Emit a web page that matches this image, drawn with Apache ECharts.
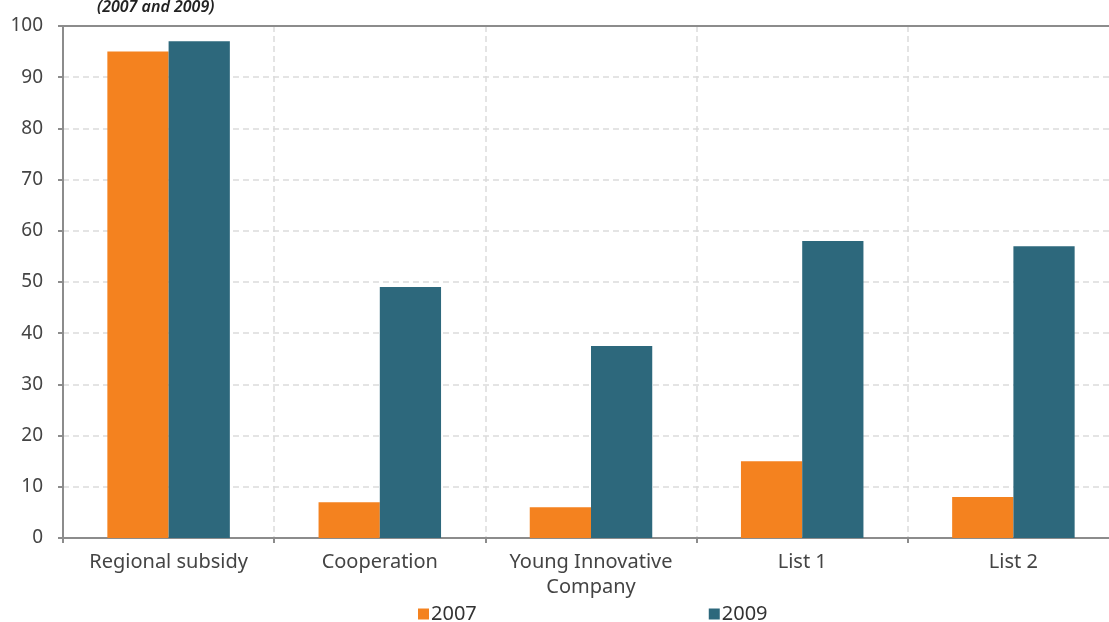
<!DOCTYPE html>
<html>
<head>
<meta charset="utf-8">
<script src="https://cdn.jsdelivr.net/npm/echarts@6/dist/echarts.min.js"></script>
<style>
  html, body { margin: 0; padding: 0; background: #fff; overflow: hidden; }
  /* plot runs past the right edge of the picture, so the div is a bit wider than the window */
  #chart { width: 1119px; height: 622px; }
</style>
</head>
<body>
<div id="chart"></div>
<script>
  // data
  const categories = ['Regional subsidy', 'Cooperation', 'Young Innovative\nCompany', 'List 1', 'List 2'];
  const values2007 = [95, 7, 6, 15, 8];
  const values2009 = [97, 49, 37.5, 58, 57];
  const yTicks = [0, 10, 20, 30, 40, 50, 60, 70, 80, 90, 100];

  const font = '"Noto Sans", "Open Sans", sans-serif';
  const axisGray = '#8c8c8c';

  const myChart = echarts.init(document.getElementById('chart'));

  myChart.setOption({
    color: ['#F4821F', '#2D687C'],
    animation: false,
    textStyle: { fontFamily: font },
    title: {
      text: '(2007 and 2009)',
      left: 92,
      top: -6,
      textStyle: { fontSize: 16, fontStyle: 'italic', fontWeight: 600, color: '#222', fontFamily: font }
    },
    grid: { left: 63, right: 0, top: 26, bottom: 84 },
    legend: {
      left: 413,
      bottom: -7,
      itemWidth: 11,
      itemHeight: 11,
      itemGap: 232,
      icon: 'rect',
      textStyle: { fontSize: 20, color: '#333', padding: [0, 0, 0, -3] },
      data: ['2007', '2009']
    },
    xAxis: [
      {
        type: 'category',
        data: categories,
        axisLine: { lineStyle: { color: axisGray, width: 2 } },
        axisTick: { show: true, length: 5, lineStyle: { color: axisGray, width: 2 } },
        axisLabel: { fontSize: 20, color: '#444', margin: 12, lineHeight: 25, interval: 0 },
        splitLine: { show: true, lineStyle: { color: '#dcdcdc', type: [6, 4], width: 1.5 } }
      },
      {
        type: 'category',
        position: 'top',
        data: categories,
        axisLine: { show: true, lineStyle: { color: axisGray, width: 2 } },
        axisTick: { show: false },
        axisLabel: { show: false }
      }
    ],
    yAxis: {
      type: 'value',
      min: yTicks[0],
      max: yTicks[yTicks.length - 1],
      interval: 10,
      axisLine: { show: true, lineStyle: { color: axisGray, width: 2 } },
      axisTick: { show: true, length: 5, lineStyle: { color: axisGray, width: 2 } },
      axisLabel: { fontSize: 19, color: '#444', margin: 20 },
      splitLine: { show: true, lineStyle: { color: '#dcdcdc', type: [6, 4], width: 1.5 } }
    },
    series: [
      {
        name: '2007',
        type: 'bar',
        data: values2007,
        barGap: '0%',
        barCategoryGap: '42%'
      },
      {
        name: '2009',
        type: 'bar',
        data: values2009,
        barGap: '0%',
        barCategoryGap: '42%'
      }
    ]
  });
</script>
</body>
</html>
